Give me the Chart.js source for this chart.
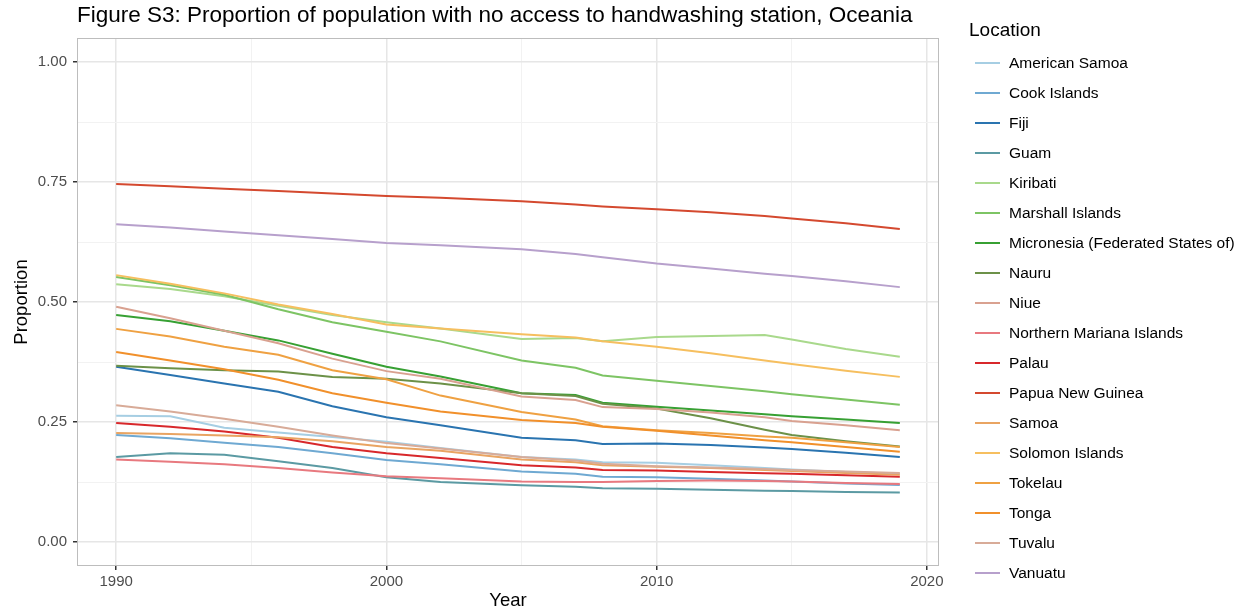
<!DOCTYPE html>
<html>
<head>
<meta charset="utf-8">
<script src="https://cdn.jsdelivr.net/npm/chart.js@4"></script>
<style>
  body { margin: 0; background: #fff; font-family: "Liberation Sans", Arial, sans-serif; }
  #wrap { position: relative; width: 1246px; height: 615px; }
  #title { position: absolute; left: 77px; top: 2px; font-size: 22.5px; line-height: 26px; color: #000; white-space: nowrap; }
  #legend { position: absolute; left: 969px; top: 0; }
  #legend .ltitle { position: absolute; left: 0; top: 19px; font-size: 19px; line-height: 22px; white-space: nowrap; }
  #legend .item { position: absolute; left: 6px; height: 20px; white-space: nowrap; font-size: 15.5px; line-height: 20px; }
  #legend .key { position: absolute; left: 0; top: 9px; width: 25px; height: 2px; }
  #legend .lab { position: absolute; left: 34px; top: 0; }
</style>
</head>
<body>
<div id="wrap">
  <canvas id="chart" width="1246" height="615"></canvas>
  <div id="title">Figure S3: Proportion of population with no access to handwashing station, Oceania</div>
  <div id="legend"></div>
</div>
<script>
const years = [1990, 1992, 1994, 1996, 1998, 2000, 2002, 2005, 2007, 2008, 2010, 2012, 2014, 2015, 2017, 2019];

const locations = ['American Samoa', 'Cook Islands', 'Fiji', 'Guam', 'Kiribati', 'Marshall Islands',
  'Micronesia (Federated States of)', 'Nauru', 'Niue', 'Northern Mariana Islands', 'Palau',
  'Papua New Guinea', 'Samoa', 'Solomon Islands', 'Tokelau', 'Tonga', 'Tuvalu', 'Vanuatu'];

const colors = ['#a6cee3', '#6fa9d2', '#2a74b0', '#5b9aa3', '#a9d98c', '#7dc464',
  '#37a033', '#6c9148', '#d9a190', '#e8797f', '#d8282b',
  '#d4492f', '#e9a462', '#f6bf5f', '#efa142', '#f1902b', '#d8ab98', '#b7a0cc'];

// values per location (same order as years)
const americanSamoa = [0.263, 0.262, 0.238, 0.228, 0.219, 0.209, 0.196, 0.177, 0.172, 0.166, 0.165, 0.160, 0.154, 0.151, 0.146, 0.142];
const cookIslands   = [0.223, 0.216, 0.207, 0.198, 0.185, 0.171, 0.162, 0.147, 0.142, 0.136, 0.135, 0.132, 0.128, 0.126, 0.122, 0.119];
const fiji          = [0.365, 0.348, 0.330, 0.313, 0.283, 0.260, 0.243, 0.217, 0.212, 0.204, 0.205, 0.202, 0.197, 0.194, 0.186, 0.177];
const guam          = [0.177, 0.185, 0.182, 0.168, 0.154, 0.135, 0.125, 0.118, 0.115, 0.112, 0.111, 0.109, 0.107, 0.106, 0.104, 0.103];
const kiribati      = [0.537, 0.527, 0.512, 0.492, 0.473, 0.458, 0.445, 0.423, 0.425, 0.418, 0.427, 0.429, 0.431, 0.422, 0.402, 0.386];
const marshall      = [0.552, 0.535, 0.515, 0.485, 0.458, 0.438, 0.418, 0.378, 0.363, 0.347, 0.336, 0.325, 0.314, 0.308, 0.297, 0.286];
const micronesia    = [0.473, 0.460, 0.440, 0.420, 0.392, 0.365, 0.345, 0.310, 0.306, 0.290, 0.282, 0.274, 0.266, 0.262, 0.255, 0.248];
const nauru         = [0.367, 0.362, 0.358, 0.355, 0.344, 0.340, 0.330, 0.310, 0.304, 0.288, 0.278, 0.258, 0.234, 0.223, 0.210, 0.199];
const niue          = [0.490, 0.466, 0.440, 0.414, 0.382, 0.356, 0.340, 0.303, 0.296, 0.281, 0.277, 0.270, 0.260, 0.252, 0.243, 0.233];
const northMariana  = [0.172, 0.167, 0.162, 0.154, 0.145, 0.137, 0.133, 0.126, 0.125, 0.125, 0.127, 0.128, 0.127, 0.126, 0.123, 0.121];
const palau         = [0.248, 0.240, 0.230, 0.217, 0.198, 0.185, 0.175, 0.160, 0.155, 0.150, 0.149, 0.146, 0.143, 0.142, 0.139, 0.136];
const png           = [0.746, 0.741, 0.736, 0.731, 0.726, 0.721, 0.717, 0.710, 0.703, 0.699, 0.693, 0.687, 0.679, 0.674, 0.664, 0.652];
const samoa         = [0.227, 0.225, 0.222, 0.218, 0.210, 0.198, 0.190, 0.172, 0.166, 0.160, 0.157, 0.154, 0.150, 0.148, 0.144, 0.140];
const solomon       = [0.556, 0.538, 0.518, 0.495, 0.475, 0.453, 0.445, 0.433, 0.426, 0.418, 0.407, 0.393, 0.378, 0.371, 0.357, 0.344];
const tokelau       = [0.444, 0.428, 0.407, 0.390, 0.358, 0.339, 0.305, 0.271, 0.255, 0.241, 0.233, 0.227, 0.220, 0.217, 0.208, 0.198];
const tonga         = [0.396, 0.378, 0.360, 0.338, 0.310, 0.290, 0.272, 0.254, 0.248, 0.240, 0.232, 0.222, 0.212, 0.208, 0.198, 0.188];
const tuvalu        = [0.285, 0.272, 0.257, 0.240, 0.222, 0.206, 0.195, 0.177, 0.170, 0.163, 0.158, 0.155, 0.152, 0.150, 0.147, 0.144];
const vanuatu       = [0.662, 0.655, 0.647, 0.639, 0.631, 0.623, 0.618, 0.610, 0.600, 0.593, 0.580, 0.570, 0.559, 0.554, 0.543, 0.531];

const seriesValues = [americanSamoa, cookIslands, fiji, guam, kiribati, marshall, micronesia, nauru, niue,
  northMariana, palau, png, samoa, solomon, tokelau, tonga, tuvalu, vanuatu];

// axis ticks
const xMajor = [1990, 2000, 2010, 2020];
const xMinor = [1995, 2005, 2015];
const yMajor = [0, 0.25, 0.5, 0.75, 1.0];
const yLabels = ['0.00', '0.25', '0.50', '0.75', '1.00'];
const yMinor = [0.125, 0.375, 0.625, 0.875];

const datasets = locations.map((name, i) => ({
  label: name,
  data: years.map((yr, j) => ({ x: yr, y: seriesValues[i][j] })),
  borderColor: colors[i],
  backgroundColor: colors[i],
  borderWidth: 2,
  pointRadius: 0,
  tension: 0,
  order: locations.length - i
}));

function isMajor(v, list) {
  return list.some(m => Math.abs(m - v) < 1e-9);
}

const panelBorder = {
  id: 'panelBorder',
  afterDraw(chart) {
    const { ctx, chartArea: a } = chart;
    ctx.save();
    ctx.strokeStyle = '#bdbdbd';
    ctx.lineWidth = 1;
    ctx.strokeRect(a.left + 0.5, a.top + 0.5, a.right - a.left - 1, a.bottom - a.top - 1);
    ctx.restore();
  }
};

const tickFont = { family: '"Liberation Sans", Arial, sans-serif', size: 15 };
const titleFont = { family: '"Liberation Sans", Arial, sans-serif', size: 18.5 };

new Chart(document.getElementById('chart').getContext('2d'), {
  type: 'line',
  data: { datasets },
  plugins: [panelBorder],
  options: {
    responsive: false,
    animation: false,
    layout: { padding: { left: 0, top: 38, right: 307, bottom: 0 } },
    scales: {
      x: {
        type: 'linear',
        min: 1988.55,
        max: 2020.45,
        afterBuildTicks: scale => {
          scale.ticks = xMajor.concat(xMinor).sort((a, b) => a - b).map(v => ({ value: v }));
        },
        afterFit: scale => { scale.height = 49; },
        ticks: {
          autoSkip: false,
          maxRotation: 0,
          color: '#4d4d4d',
          font: tickFont,
          padding: 3,
          callback: value => isMajor(value, xMajor) ? String(value) : ''
        },
        grid: {
          color: ctx => isMajor(ctx.tick.value, xMajor) ? '#e6e6e6' : '#f2f2f2',
          lineWidth: ctx => isMajor(ctx.tick.value, xMajor) ? 1.5 : 1,
          tickLength: 4,
          tickColor: ctx => isMajor(ctx.tick.value, xMajor) ? '#333333' : 'rgba(0,0,0,0)'
        },
        border: { display: false },
        title: { display: true, text: 'Year', color: '#000', font: titleFont, padding: { top: 0, bottom: 3 } }
      },
      y: {
        min: -0.05,
        max: 1.05,
        afterBuildTicks: scale => {
          scale.ticks = yMajor.concat(yMinor).sort((a, b) => a - b).map(v => ({ value: v }));
        },
        afterFit: scale => { scale.width = 77; },
        ticks: {
          autoSkip: false,
          color: '#4d4d4d',
          font: tickFont,
          padding: 6,
          callback: value => {
            const k = yMajor.findIndex(m => Math.abs(m - value) < 1e-9);
            return k >= 0 ? yLabels[k] : '';
          }
        },
        grid: {
          color: ctx => isMajor(ctx.tick.value, yMajor) ? '#e6e6e6' : '#f2f2f2',
          lineWidth: ctx => isMajor(ctx.tick.value, yMajor) ? 1.5 : 1,
          tickLength: 4,
          tickColor: ctx => isMajor(ctx.tick.value, yMajor) ? '#333333' : 'rgba(0,0,0,0)'
        },
        border: { display: false },
        title: { display: true, text: 'Proportion', color: '#000', font: titleFont, padding: { top: 11, bottom: 0 } }
      }
    },
    plugins: {
      legend: { display: false },
      tooltip: { enabled: false }
    }
  }
});

// Legend on the right
const legend = document.getElementById('legend');
const lt = document.createElement('div');
lt.className = 'ltitle';
lt.textContent = 'Location';
legend.appendChild(lt);
locations.forEach((name, i) => {
  const item = document.createElement('div');
  item.className = 'item';
  item.style.top = (53 + i * 30) + 'px';
  const key = document.createElement('div');
  key.className = 'key';
  key.style.background = colors[i];
  const lab = document.createElement('div');
  lab.className = 'lab';
  lab.textContent = name;
  item.appendChild(key);
  item.appendChild(lab);
  legend.appendChild(item);
});
</script>
</body>
</html>
